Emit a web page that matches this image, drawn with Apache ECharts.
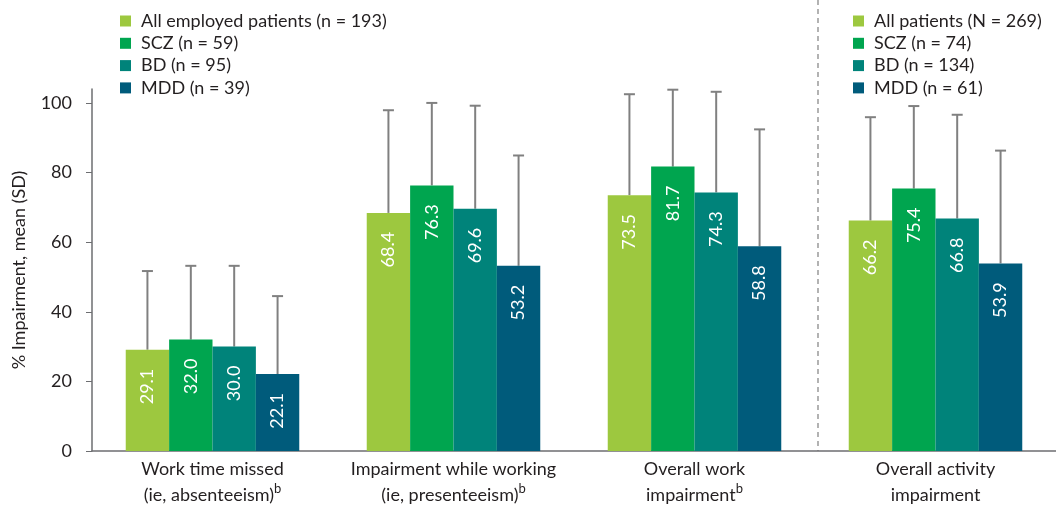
<!DOCTYPE html>
<html>
<head>
<meta charset="utf-8">
<script src="https://cdn.jsdelivr.net/npm/echarts@6/dist/echarts.min.js"></script>
<style>
  html, body { margin: 0; padding: 0; background: #fff; }
  #chart { width: 1056px; height: 515px; }
</style>
</head>
<body>
<div id="chart"></div>
<script>
// categories and values
var categories = [
  "Work time missed\n(ie, absenteeism){sup|b}",
  "Impairment while working\n(ie, presenteeism){sup|b}",
  "Overall work\nimpairment{sup|b}",
  "Overall activity\nimpairment"
];
var workNames = ["All employed patients (n = 193)", "SCZ (n = 59)", "BD (n = 95)", "MDD (n = 39)"];
var activityNames = ["All patients (N = 269)", "SCZ (n = 74)", "BD (n = 134)", "MDD (n = 61)"];
var colors = ["#9dc83f", "#00a54f", "#00837a", "#005b7b"];

// mean per group (all, SCZ, BD, MDD) for each category
var allMeans = [29.1, 68.4, 73.5, 66.2];
var sczMeans = [32.0, 76.3, 81.7, 75.4];
var bdMeans = [30.0, 69.6, 74.3, 66.8];
var mddMeans = [22.1, 53.2, 58.8, 53.9];

// standard deviations (estimated from error bar caps)
var allSD = [22.6, 29.5, 29.0, 29.7];
var sczSD = [21.2, 23.7, 22.1, 23.7];
var bdSD = [23.2, 29.6, 28.9, 29.8];
var mddSD = [22.4, 31.7, 33.6, 32.4];

var yTicks = [0, 20, 40, 60, 80, 100];

var means = [allMeans, sczMeans, bdMeans, mddMeans];
var sds = [allSD, sczSD, bdSD, mddSD];
var FONT = "Lato";
var BAR_PCT = 0.18;

var grid = { left: 92, top: 89, width: 968, bottom: 64 };

var series = [];
var barLabel = {
  show: true,
  position: "insideTop",
  rotate: 90,
  align: "right",
  verticalAlign: "middle",
  distance: 19,
  color: "#fff",
  fontFamily: FONT,
  fontSize: 18,
  formatter: function (p) { return p.value.toFixed(1); }
};

for (var i = 0; i < 4; i++) {
  // work categories (first three)
  series.push({
    name: workNames[i],
    type: "bar",
    stack: "g" + i,
    barWidth: (BAR_PCT * 100) + "%",
    barGap: "0%",
    itemStyle: { color: colors[i] },
    label: barLabel,
    z: 3,
    data: means[i].map(function (v, k) { return k < 3 ? v : "-"; })
  });
  // activity category (last one)
  series.push({
    name: activityNames[i],
    type: "bar",
    stack: "g" + i,
    barWidth: (BAR_PCT * 100) + "%",
    barGap: "0%",
    itemStyle: { color: colors[i] },
    label: barLabel,
    z: 3,
    data: means[i].map(function (v, k) { return k === 3 ? v : "-"; })
  });
}

// error bars (upper SD only)
for (var j = 0; j < 4; j++) {
  (function (idx) {
    series.push({
      type: "custom",
      name: "sd" + idx,
      z: 2,
      silent: true,
      data: means[idx].map(function (v, k) { return [k, v, v + sds[idx][k]]; }),
      renderItem: function (params, api) {
        var band = api.size([1, 0])[0];
        var off = (idx - 1.5) * BAR_PCT * band;
        var base = api.coord([api.value(0), api.value(1)]);
        var top = api.coord([api.value(0), api.value(2)]);
        var x = base[0] + off;
        var style = { stroke: "#808080", lineWidth: 2 };
        return {
          type: "group",
          children: [
            { type: "line", shape: { x1: x, y1: base[1], x2: x, y2: top[1] }, style: style },
            { type: "line", shape: { x1: x - 5.5, y1: top[1], x2: x + 5.5, y2: top[1] }, style: style }
          ]
        };
      }
    });
  })(j);
}

var legendBase = {
  orient: "vertical",
  top: 7,
  icon: "rect",
  itemWidth: 11,
  itemHeight: 11,
  itemGap: 4.3,
  selectedMode: false,
  textStyle: { fontFamily: FONT, fontSize: 18, lineHeight: 18, color: "#231f20", padding: [0, 0, 0, 5] }
};

var option = {
  animation: false,
  textStyle: { fontFamily: FONT },
  grid: grid,
  legend: [
    Object.assign({}, legendBase, { left: 115, data: workNames }),
    Object.assign({}, legendBase, { left: 848, data: activityNames })
  ],
  xAxis: {
    type: "category",
    data: categories,
    axisLine: { lineStyle: { color: "#6d6e71", width: 1.5 } },
    axisTick: { show: false },
    axisLabel: {
      interval: 0,
      color: "#231f20",
      fontFamily: FONT,
      fontSize: 18,
      lineHeight: 26,
      margin: 5,
      rich: { sup: { fontSize: 13, verticalAlign: "top", lineHeight: 26, padding: [0, 0, 10, 0] } }
    }
  },
  yAxis: {
    type: "value",
    min: 0,
    max: 104,
    interval: 20,
    name: "% Impairment, mean (SD)",
    nameLocation: "middle",
    nameGap: 64,
    nameTextStyle: { color: "#231f20", fontFamily: FONT, fontSize: 18 },
    splitLine: { show: false },
    axisLine: { show: true, lineStyle: { color: "#6d6e71", width: 1.5 } },
    axisTick: { show: true, length: 6, customValues: yTicks, lineStyle: { color: "#6d6e71" } },
    axisLabel: { color: "#231f20", fontFamily: FONT, fontSize: 18, margin: 20, customValues: yTicks }
  },
  graphic: [{
    type: "line",
    shape: {
      x1: grid.left + grid.width * 3 / 4, y1: 0,
      x2: grid.left + grid.width * 3 / 4, y2: 515 - grid.bottom
    },
    style: { stroke: "#808080", lineWidth: 1.2, lineDash: [5, 4] },
    z: 0
  }],
  series: series
};

var chart = echarts.init(document.getElementById("chart"));
chart.setOption(option);
</script>
</body>
</html>
